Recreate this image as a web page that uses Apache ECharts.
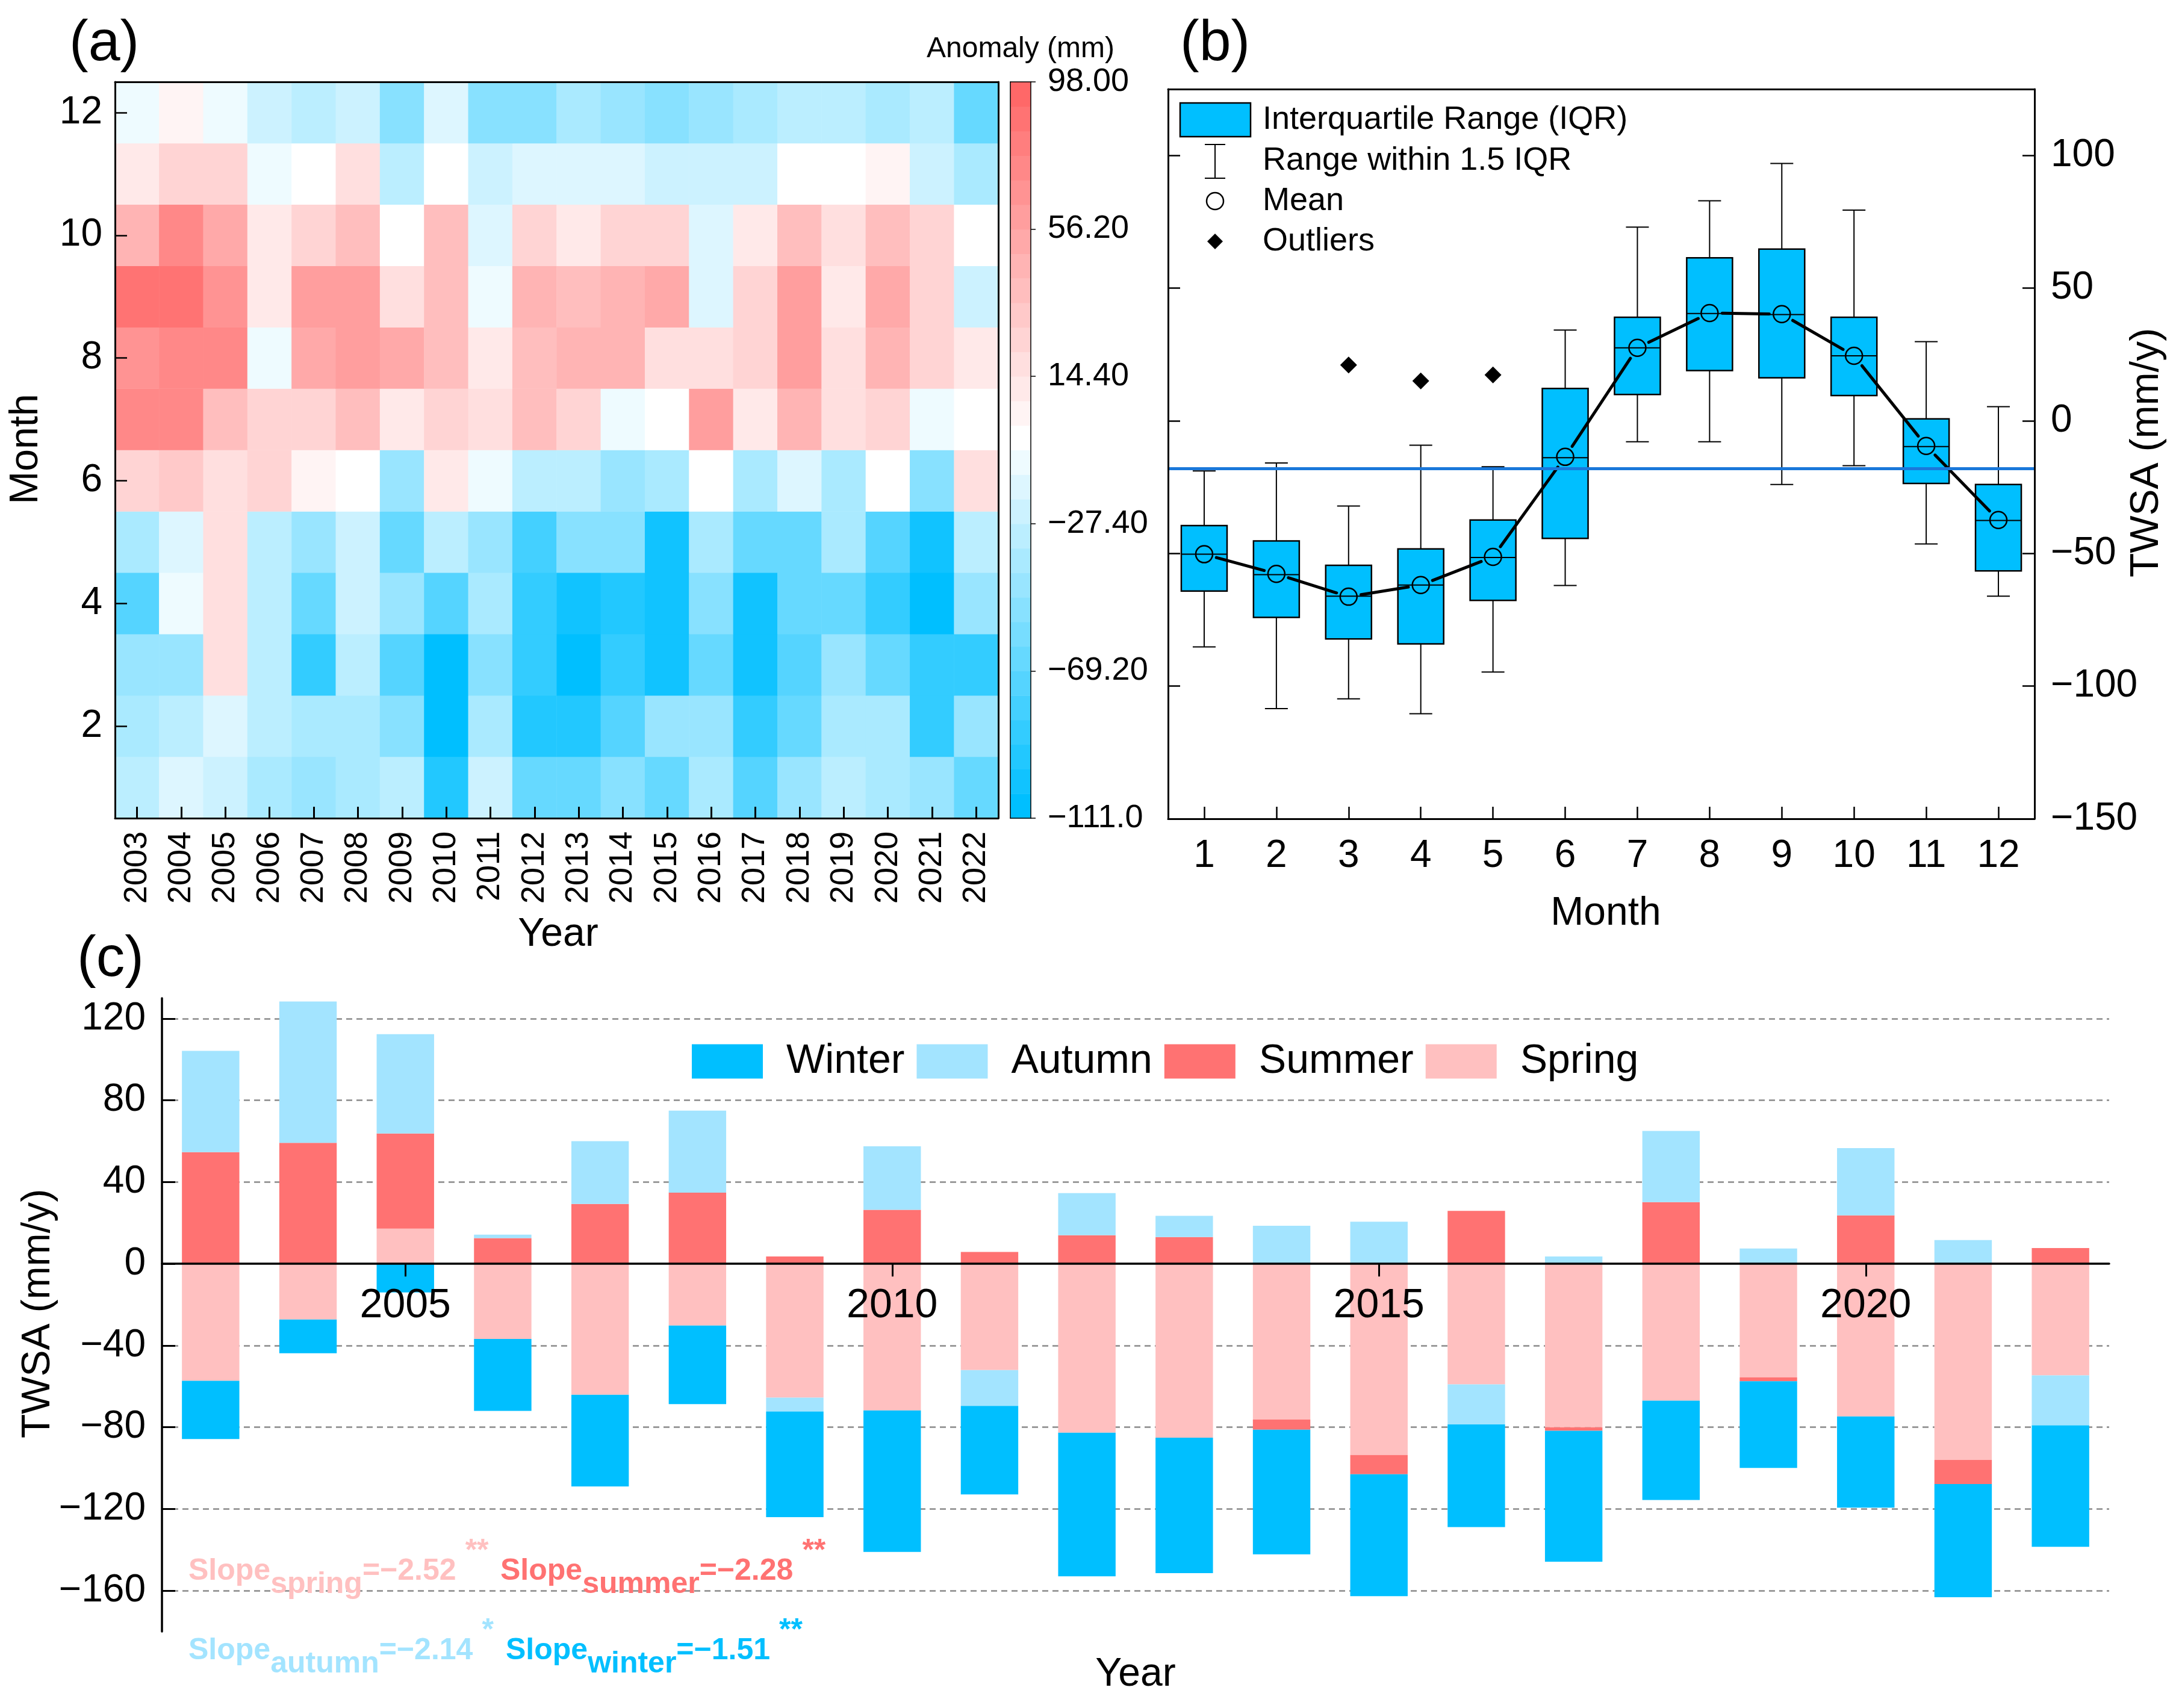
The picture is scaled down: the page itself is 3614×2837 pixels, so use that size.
<!DOCTYPE html>
<html>
<head>
<meta charset="utf-8">
<script src="https://cdn.jsdelivr.net/npm/echarts@6/dist/echarts.min.js"></script>
<style>html,body{margin:0;padding:0;background:#fff}#c{width:3614px;height:2837px}</style>
</head>
<body>
<div id="c"></div>
<script>
// ---------------- DATA ----------------
const years = ['2003','2004','2005','2006','2007','2008','2009','2010','2011','2012','2013','2014','2015','2016','2017','2018','2019','2020','2021','2022'];
const months = ['1','2','3','4','5','6','7','8','9','10','11','12'];

// (a) monthly anomaly (mm), one array per month, values per year 2003..2022
const anomalyJan = [-31,-17,-24,-41,-48,-41,-34,-97,-24,-66,-66,-55,-66,-41,-73,-48,-34,-41,-48,-66];
const anomalyFeb = [-41,-34,-17,-31,-41,-41,-55,-108,-41,-97,-97,-73,-48,-48,-86,-66,-41,-41,-86,-48];
const anomalyMar = [-48,-48,18,-31,-86,-34,-73,-108,-55,-86,-108,-86,-101,-66,-101,-73,-48,-66,-86,-86];
const anomalyApr = [-73,-10,18,-34,-66,-24,-48,-73,-41,-86,-101,-97,-101,-55,-101,-66,-66,-86,-108,-48];
const anomalyMay = [-41,-17,18,-34,-48,-24,-66,-34,-48,-83,-55,-55,-101,-41,-66,-66,-41,-73,-101,-34];
const anomalyJun = [28,35,18,22,4,-3,-48,11,-10,-34,-31,-48,-41,-3,-41,-17,-41,-3,-55,18];
const anomalyJul = [74,74,39,22,28,39,11,28,18,39,22,-10,-3,62,11,46,18,28,-10,-3];
const anomalyAug = [64,74,77,-10,53,62,56,39,11,39,46,46,18,18,28,62,18,46,28,11];
const anomalySep = [88,88,67,11,62,62,18,42,-10,46,39,46,56,-17,22,62,11,56,28,-24];
const anomalyOct = [46,74,53,11,28,39,-3,42,-17,28,11,25,28,-17,11,39,18,42,28,-3];
const anomalyNov = [11,28,28,-10,-3,18,-34,-3,-24,-17,-17,-17,-24,-24,-24,-3,-3,4,-24,-41];
const anomalyDec = [-10,4,-10,-24,-34,-24,-55,-17,-55,-55,-41,-48,-55,-48,-37,-31,-34,-41,-34,-66];
const anomalyByMonth = [anomalyJan,anomalyFeb,anomalyMar,anomalyApr,anomalyMay,anomalyJun,anomalyJul,anomalyAug,anomalySep,anomalyOct,anomalyNov,anomalyDec];
const cbMin = -111, cbMax = 98, cbStep = 41.8, cbBands = 30;

// (b) monthly box statistics (mm/y)
const whiskerLow  = [-85.2,-108.5,-104.8,-110.4,-94.7,-62.1,-7.9,-7.9,-24.0,-16.9,-46.4,-66.1];
const quart1      = [-64.2,-74.1,-82.2,-84.1,-67.7,-44.3,9.9,18.9,16.2,9.5,-23.6,-56.6];
const medianVals  = [-50.3,-58.0,-66.1,-61.9,-51.5,-13.9,27.5,40.4,40.0,24.5,-9.7,-37.6];
const quart3      = [-39.5,-45.3,-54.5,-48.3,-37.4,12.2,39.0,61.4,64.7,39.0,0.7,-24.0];
const whiskerHigh = [-18.9,-15.9,-32.1,-9.2,-17.3,34.2,73.0,82.9,97.0,79.4,29.8,5.3];
const meanVals    = [-50.3,-57.7,-66.3,-61.9,-51.3,-13.6,27.5,40.6,40.2,24.5,-9.5,-37.4];
const outlierMonth = ['3','4','5'];
const outlierVals  = [21.0,15.0,17.3];
const refLineValue = -18;
const boxTicks = [-150,-100,-50,0,50,100];

// (c) seasonal TWSA (mm/y)
const seasonSpring = [-57.3,-27.3,17.2,-36.8,-64.1,-30.2,-65.5,-71.8,-52.0,-82.7,-85.1,-76.2,-93.6,-59.0,-80.0,-67.0,-55.6,-74.7,-96.0,-54.6];
const seasonSummer = [54.6,59.2,46.6,12.6,29.3,34.8,3.6,26.4,5.8,14.0,13.1,-5.0,-9.4,25.9,-1.7,30.2,-1.9,23.7,-11.8,7.7];
const seasonAutumn = [49.6,69.2,48.6,1.7,30.7,40.2,-6.8,31.1,-17.6,20.6,10.4,18.6,20.6,-19.6,3.6,34.8,7.5,32.9,11.6,-24.5];
const seasonWinter = [-28.5,-16.5,-14.0,-35.2,-44.9,-38.5,-51.7,-69.2,-43.3,-70.3,-66.3,-61.0,-59.7,-50.3,-64.1,-48.6,-42.4,-44.7,-55.4,-59.4];
const barTicks = [-160,-120,-80,-40,0,40,80,120];
const barYearLabels = ['2005','2010','2015','2020'];
const slopeSeason = ['spring','summer','autumn','winter'];
const slopeValue  = ['−2.52','−2.28','−2.14','−1.51'];
const slopeStars  = ['**','**','*','**'];

// ---------------- STYLE ----------------
const FONT = '"Liberation Sans", Arial, Helvetica, sans-serif';
const C_WINTER = '#00BFFF', C_AUTUMN = '#A3E4FF', C_SUMMER = '#FF7272', C_SPRING = '#FFC0C0';
const minus = v => String(v).replace('-', '\u2212');

function rgb(r, g, b) { return 'rgb(' + Math.round(r) + ',' + Math.round(g) + ',' + Math.round(b) + ')'; }
function bandColor(i) {
  if (i < 15) { const t = i / 15; return rgb(255 * t, 191 + 64 * t, 255); }
  if (i === 15) return '#ffffff';
  const t = (i - 15) / 14; return rgb(255, 255 - 151 * t, 255 - 151 * t);
}
const bandW = (cbMax - cbMin) / cbBands;
const pieces = [];
const cbData = [];
for (let i = 0; i < cbBands; i++) {
  const lo = cbMin + i * bandW, hi = cbMin + (i + 1) * bandW;
  const p = { gte: lo, color: bandColor(i) };
  if (i === cbBands - 1) p.lte = hi; else p.lt = hi;
  pieces.push(p);
  cbData.push([0, lo, (lo + hi) / 2, hi]);
}

const heatData = [];
anomalyByMonth.forEach((row, m) => row.forEach((v, y) => heatData.push([y, m, v])));

const boxData = months.map((m, i) => [i, whiskerLow[i], quart1[i], medianVals[i], quart3[i], whiskerHigh[i]]);
const meanData = months.map((m, i) => [i, meanVals[i], Math.min(i + 1, months.length - 1), meanVals[Math.min(i + 1, months.length - 1)]]);
const outlierData = outlierMonth.map((m, i) => [months.indexOf(m), outlierVals[i]]);
const yearLabelData = barYearLabels.map(y => [years.indexOf(y), 0]);

const evenMonth = (idx) => idx % 2 === 1;
const fiveYear = (idx) => barYearLabels.indexOf(years[idx]) >= 0;

// ---------------- GRAPHIC TEXTS ----------------
function txt(text, x, y, size, opts) {
  opts = opts || {};
  return {
    type: 'text', x: x, y: y, rotation: opts.rot || 0, silent: true, z: 100,
    style: { text: text, fill: opts.color || '#000', fontSize: size, fontFamily: FONT,
      fontWeight: opts.weight || 'normal', align: opts.align || 'center', verticalAlign: 'middle' }
  };
}
const slopeColors = [C_SPRING, C_SUMMER, C_AUTUMN, C_WINTER];
const slopePos = [[313, 2552], [831, 2552], [313, 2684], [840, 2684]];
function slopeText(i) {
  const base = { fill: slopeColors[i], fontSize: 50, fontWeight: 'bold', fontFamily: FONT, verticalAlign: 'top' };
  return {
    type: 'text', x: slopePos[i][0], y: slopePos[i][1], silent: true, z: 100,
    style: {
      text: '{m|Slope}{s|' + slopeSeason[i] + '}{m|=' + slopeValue[i] + '}{p|' + slopeStars[i] + '}',
      align: 'left', verticalAlign: 'top',
      rich: {
        m: Object.assign({}, base, { padding: [33, 0, 0, 0] }),
        s: Object.assign({}, base, { padding: [55, 0, 0, 0] }),
        p: Object.assign({}, base, { padding: [0, 0, 0, 15] })
      }
    }
  };
}

const graphics = [
  txt('(a)', 115, 74, 95, { align: 'left' }),
  txt('(b)', 1960, 74, 95, { align: 'left' }),
  txt('(c)', 128, 1595, 95, { align: 'left' }),
  txt('Month', 44, 746, 66, { rot: Math.PI / 2 }),
  txt('Year', 927, 1553, 66),
  txt('Anomaly (mm)', 1695, 82, 48),
  txt('Month', 2667, 1518, 66),
  txt('TWSA (mm/y)', 3566, 752, 66, { rot: Math.PI / 2 }),
  txt('TWSA (mm/y)', 64, 2182, 66, { rot: Math.PI / 2 }),
  txt('Year', 1886, 2782, 66),
  // legend of (b)
  { type: 'rect', z: 100, silent: true, shape: { x: 1960, y: 171, width: 117, height: 56 }, style: { fill: C_WINTER, stroke: '#000', lineWidth: 2.5 } },
  { type: 'line', z: 100, silent: true, shape: { x1: 2018, y1: 240, x2: 2018, y2: 296 }, style: { stroke: '#000', lineWidth: 2 } },
  { type: 'line', z: 100, silent: true, shape: { x1: 2001, y1: 240, x2: 2035, y2: 240 }, style: { stroke: '#000', lineWidth: 2 } },
  { type: 'line', z: 100, silent: true, shape: { x1: 2001, y1: 296, x2: 2035, y2: 296 }, style: { stroke: '#000', lineWidth: 2 } },
  { type: 'circle', z: 100, silent: true, shape: { cx: 2018, cy: 334, r: 14 }, style: { fill: 'none', stroke: '#000', lineWidth: 2.5 } },
  { type: 'polygon', z: 100, silent: true, shape: { points: [[2018, 388], [2031, 401], [2018, 414], [2005, 401]] }, style: { fill: '#000' } },
  txt('Interquartile Range (IQR)', 2097, 199, 54, { align: 'left' }),
  txt('Range within 1.5 IQR', 2097, 267, 54, { align: 'left' }),
  txt('Mean', 2097, 334, 54, { align: 'left' }),
  txt('Outliers', 2097, 401, 54, { align: 'left' }),
  slopeText(0), slopeText(1), slopeText(2), slopeText(3)
];

// ---------------- OPTION ----------------
const frameCat = (grid, data, pos, w) => ({
  gridIndex: grid, type: 'category', data: data, position: pos, z: 10,
  axisLine: { show: true, onZero: false, lineStyle: { color: '#000', width: w } },
  axisTick: { show: false }, axisLabel: { show: false }, splitLine: { show: false }
});
const labelStyle = (size, margin) => ({ color: '#000', fontSize: size, fontFamily: FONT, margin: margin });

const option = {
  backgroundColor: '#fff',
  animation: false,
  graphic: graphics,
  grid: [
    { left: 191, top: 136, width: 1467, height: 1223 },
    { left: 1678, top: 136, width: 34, height: 1223 },
    { left: 1940, top: 148, width: 1439, height: 1212 },
    { left: 269, top: 1658, width: 3234, height: 1052 }
  ],
  visualMap: { type: 'piecewise', show: false, dimension: 2, seriesIndex: [0, 1], pieces: pieces },
  legend: {
    data: ['Winter', 'Autumn', 'Summer', 'Spring'], left: 1144, top: 1724, orient: 'horizontal',
    itemWidth: 118, itemHeight: 57, itemGap: 20, icon: 'rect', selectedMode: false,
    textStyle: { fontSize: 68, color: '#000', fontFamily: FONT, padding: [0, 0, 0, 34] }
  },
  xAxis: [
    { gridIndex: 0, type: 'category', data: years, position: 'bottom', z: 10,
      axisLine: { show: true, onZero: false, lineStyle: { color: '#000', width: 3 } },
      axisTick: { show: true, inside: true, length: 19, alignWithLabel: true, interval: 0, lineStyle: { color: '#000', width: 3 } },
      axisLabel: Object.assign(labelStyle(54, 22), { rotate: 90, interval: 0 }), splitLine: { show: false } },
    frameCat(0, years, 'top', 3),
    frameCat(1, [''], 'bottom', 1.5),
    frameCat(1, [''], 'top', 1.5),
    { gridIndex: 2, type: 'category', data: months, position: 'bottom', z: 10,
      axisLine: { show: true, onZero: false, lineStyle: { color: '#000', width: 3 } },
      axisTick: { show: true, inside: true, length: 20, alignWithLabel: true, interval: 0, lineStyle: { color: '#000', width: 2.5 } },
      axisLabel: Object.assign(labelStyle(64, 30), { interval: 0 }), splitLine: { show: false } },
    frameCat(2, months, 'top', 3),
    { gridIndex: 3, type: 'category', data: years, position: 'bottom', z: 10,
      axisLine: { show: true, onZero: true, lineStyle: { color: '#000', width: 3.5 } },
      axisTick: { show: true, inside: false, length: 21, alignWithLabel: true, interval: fiveYear, lineStyle: { color: '#000', width: 3 } },
      axisLabel: { show: false }, splitLine: { show: false } }
  ],
  yAxis: [
    { gridIndex: 0, type: 'category', data: months, position: 'left', z: 10,
      axisLine: { show: true, onZero: false, lineStyle: { color: '#000', width: 3 } },
      axisTick: { show: true, inside: true, length: 20, alignWithLabel: true, interval: evenMonth, lineStyle: { color: '#000', width: 2.5 } },
      axisLabel: Object.assign(labelStyle(64, 21), { interval: evenMonth }), splitLine: { show: false } },
    frameCat(0, months, 'right', 3),
    { gridIndex: 1, type: 'value', min: cbMin, max: cbMax, interval: cbStep, position: 'right', z: 10,
      axisLine: { show: true, onZero: false, lineStyle: { color: '#000', width: 1.5 } },
      axisTick: { show: true, inside: false, length: 8, lineStyle: { color: '#000', width: 1.5 } },
      axisLabel: Object.assign(labelStyle(54, 28), { formatter: v => v.toPrecision(4).replace('-', '\u2212') }),
      splitLine: { show: false } },
    { gridIndex: 1, type: 'value', min: cbMin, max: cbMax, position: 'left', z: 10,
      axisLine: { show: true, onZero: false, lineStyle: { color: '#000', width: 1.5 } },
      axisTick: { show: false }, axisLabel: { show: false }, splitLine: { show: false } },
    { gridIndex: 2, type: 'value', min: -150, max: 125, interval: 50, position: 'right', z: 10,
      axisLine: { show: true, onZero: false, lineStyle: { color: '#000', width: 3 } },
      axisTick: { show: true, inside: true, length: 20, customValues: boxTicks, lineStyle: { color: '#000', width: 2.5 } },
      axisLabel: Object.assign(labelStyle(64, 27), { customValues: boxTicks, formatter: minus }),
      splitLine: { show: false } },
    { gridIndex: 2, type: 'value', min: -150, max: 125, interval: 50, position: 'left', z: 10,
      axisLine: { show: true, onZero: false, lineStyle: { color: '#000', width: 3 } },
      axisTick: { show: true, inside: true, length: 20, customValues: boxTicks, lineStyle: { color: '#000', width: 2.5 } },
      axisLabel: { show: false }, splitLine: { show: false } },
    { gridIndex: 3, type: 'value', min: -180, max: 130, position: 'left', z: 10,
      axisLine: { show: true, onZero: false, lineStyle: { color: '#000', width: 3.5 } },
      axisTick: { show: true, inside: true, length: 22, customValues: barTicks, lineStyle: { color: '#000', width: 3 } },
      axisLabel: Object.assign(labelStyle(64, 27), { customValues: barTicks, formatter: minus }),
      splitLine: { show: false } }
  ],
  series: [
    { name: 'anomaly', type: 'heatmap', xAxisIndex: 0, yAxisIndex: 0, data: heatData, silent: true,
      itemStyle: { borderWidth: 0 }, emphasis: { disabled: true } },
    { name: 'colorbar', type: 'custom', xAxisIndex: 2, yAxisIndex: 2, data: cbData, silent: true,
      encode: { x: 0, y: [1, 3] },
      renderItem: function (params, api) {
        const top = api.coord([0, api.value(3)]);
        const bot = api.coord([0, api.value(1)]);
        const w = api.size([1, 0])[0];
        return { type: 'rect', shape: { x: top[0] - w / 2, y: top[1], width: w, height: bot[1] - top[1] + 0.6 },
          style: { fill: api.visual('color') } };
      } },
    { name: 'Interquartile Range (IQR)', type: 'custom', xAxisIndex: 4, yAxisIndex: 4, data: boxData, silent: true,
      encode: { x: 0, y: [1, 2, 3, 4, 5] },
      renderItem: function (params, api) {
        const x = api.value(0);
        const lo = api.coord([x, api.value(1)]);
        const q1 = api.coord([x, api.value(2)]);
        const md = api.coord([x, api.value(3)]);
        const q3 = api.coord([x, api.value(4)]);
        const hi = api.coord([x, api.value(5)]);
        const bw = api.size([1, 0])[0] * 0.634;
        const cx = lo[0], cap = bw / 4;
        const ls = { stroke: '#000', lineWidth: 2 };
        return { type: 'group', children: [
          { type: 'line', shape: { x1: cx, y1: hi[1], x2: cx, y2: lo[1] }, style: ls },
          { type: 'line', shape: { x1: cx - cap, y1: hi[1], x2: cx + cap, y2: hi[1] }, style: ls },
          { type: 'line', shape: { x1: cx - cap, y1: lo[1], x2: cx + cap, y2: lo[1] }, style: ls },
          { type: 'rect', shape: { x: cx - bw / 2, y: q3[1], width: bw, height: q1[1] - q3[1] }, style: { fill: C_WINTER, stroke: '#000', lineWidth: 2.5 } },
          { type: 'line', shape: { x1: cx - bw / 2, y1: md[1], x2: cx + bw / 2, y2: md[1] }, style: ls }
        ] };
      } },
    { name: 'Mean', type: 'custom', xAxisIndex: 4, yAxisIndex: 4, data: meanData, silent: true,
      encode: { x: 0, y: 1 },
      renderItem: function (params, api) {
        const p = api.coord([api.value(0), api.value(1)]);
        const q = api.coord([api.value(2), api.value(3)]);
        const r = 14;
        const children = [{ type: 'circle', shape: { cx: p[0], cy: p[1], r: r }, style: { fill: 'none', stroke: '#000', lineWidth: 2.5 } }];
        const dx = q[0] - p[0], dy = q[1] - p[1], L = Math.sqrt(dx * dx + dy * dy);
        if (L > 2 * (r + 7)) {
          const ux = dx / L, uy = dy / L, g = r + 7;
          children.push({ type: 'line', shape: { x1: p[0] + ux * g, y1: p[1] + uy * g, x2: q[0] - ux * g, y2: q[1] - uy * g },
            style: { stroke: '#000', lineWidth: 5, lineCap: 'round' } });
        }
        return { type: 'group', children: children };
      } },
    { name: 'Outliers', type: 'scatter', xAxisIndex: 4, yAxisIndex: 4, data: outlierData, silent: true,
      symbol: 'diamond', symbolSize: 28, itemStyle: { color: '#000', opacity: 1 }, z: 5,
      markLine: { silent: true, symbol: ['none', 'none'], z: 6, label: { show: false },
        lineStyle: { color: '#1A78DA', width: 5, type: 'solid' }, data: [{ yAxis: refLineValue }] } },
    { name: 'Spring', type: 'bar', stack: 'season', xAxisIndex: 6, yAxisIndex: 6, data: seasonSpring, barWidth: '59%',
      itemStyle: { color: C_SPRING }, silent: true,
      markLine: { silent: true, symbol: ['none', 'none'], z: 1, label: { show: false },
        lineStyle: { color: '#8a8a8a', width: 2.5, type: [10, 7] },
        data: barTicks.filter(v => v !== 0).map(v => ({ yAxis: v })) } },
    { name: 'Summer', type: 'bar', stack: 'season', xAxisIndex: 6, yAxisIndex: 6, data: seasonSummer, barWidth: '59%', itemStyle: { color: C_SUMMER }, silent: true },
    { name: 'Autumn', type: 'bar', stack: 'season', xAxisIndex: 6, yAxisIndex: 6, data: seasonAutumn, barWidth: '59%', itemStyle: { color: C_AUTUMN }, silent: true },
    { name: 'Winter', type: 'bar', stack: 'season', xAxisIndex: 6, yAxisIndex: 6, data: seasonWinter, barWidth: '59%', itemStyle: { color: C_WINTER }, silent: true },
    { name: 'yearLabels', type: 'custom', xAxisIndex: 6, yAxisIndex: 6, data: yearLabelData, silent: true, z: 20,
      encode: { x: 0, y: 1 },
      renderItem: function (params, api) {
        const p = api.coord([api.value(0), api.value(1)]);
        return { type: 'text', x: p[0], y: p[1] + 36,
          style: { text: years[api.value(0)], fill: '#000', fontSize: 68, fontFamily: FONT, align: 'center', verticalAlign: 'top' } };
      } }
  ]
};

const chart = echarts.init(document.getElementById('c'), null, { renderer: 'canvas', width: 3614, height: 2837 });
chart.setOption(option);
</script>
</body>
</html>
